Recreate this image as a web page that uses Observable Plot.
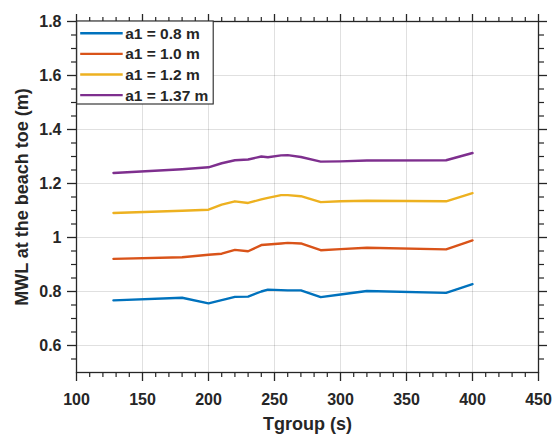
<!DOCTYPE html>
<html><head><meta charset="utf-8">
<script src="https://cdn.jsdelivr.net/npm/d3@7"></script>
<script src="https://cdn.jsdelivr.net/npm/@observablehq/plot@0.6"></script>
<style>
body{margin:0;background:#fff}
svg{font-family:"Liberation Sans",Arial,Helvetica,sans-serif}
</style>
</head><body><div id="chart"></div>
<script>
const tgroup = [128, 180, 200, 210, 220, 230, 240, 245, 255, 260, 270, 285, 300, 320, 380, 400];
const mwl08  = [0.767, 0.777, 0.756, 0.768, 0.780, 0.781, 0.800, 0.807, 0.805, 0.804, 0.804, 0.779, 0.789, 0.802, 0.795, 0.827];
const mwl10  = [0.921, 0.927, 0.936, 0.940, 0.954, 0.949, 0.972, 0.974, 0.978, 0.980, 0.978, 0.953, 0.957, 0.962, 0.956, 0.989];
const mwl12  = [1.091, 1.099, 1.103, 1.122, 1.134, 1.128, 1.141, 1.147, 1.157, 1.157, 1.153, 1.131, 1.134, 1.136, 1.134, 1.164];
const mwl137 = [1.239, 1.253, 1.260, 1.275, 1.286, 1.289, 1.300, 1.297, 1.304, 1.305, 1.298, 1.281, 1.282, 1.285, 1.286, 1.313];
const seriesNames  = ["a1 = 0.8 m", "a1 = 1.0 m", "a1 = 1.2 m", "a1 = 1.37 m"];
const seriesColors = ["#0072BD", "#D95319", "#EDB120", "#7E2F8E"];
const xTicks = [100, 150, 200, 250, 300, 350, 400, 450];
const yTicks = [0.6, 0.8, 1.0, 1.2, 1.4, 1.6, 1.8];
const yTickLabels = ["0.6", "0.8", "1", "1.2", "1.4", "1.6", "1.8"];
const xTitle = "Tgroup (s)";
const yTitle = "MWL at the beach toe (m)";

const seriesValues = [mwl08, mwl10, mwl12, mwl137];
const rows = seriesNames.flatMap((s, i) => tgroup.map((t, j) => ({series: s, t, v: seriesValues[i][j]})));
const xMinor = d3.range(100, 451, 10).filter(v => v % 50 !== 0);
const yMinor = d3.range(11, 36).map(k => k * 0.05).filter(v => Math.round(v * 100) % 20 !== 0 && v <= 1.8001);
const yFmt = d => yTickLabels[yTicks.findIndex(t => Math.abs(t - d) < 1e-9)] ?? "";

const ink = "#262626";
const plot = Plot.plot({
  width: 552, height: 439,
  marginLeft: 76, marginRight: 14, marginTop: 21, marginBottom: 67,
  x: {domain: [100, 450], label: null},
  y: {domain: [0.5, 1.8], label: null},
  color: {domain: seriesNames, range: seriesColors},
  marks: [
    Plot.gridX(xTicks, {stroke: "#000", strokeOpacity: 0.12}),
    Plot.gridY(yTicks, {stroke: "#000", strokeOpacity: 0.12}),
    Plot.line(rows, {x: "t", y: "v", z: "series", stroke: "series", strokeWidth: 2.4}),
    Plot.axisX(xTicks, {anchor: "bottom", tickSize: 9, tickPadding: 12, fontSize: 16, fontWeight: "bold", color: ink, strokeWidth: 1.3, label: null}),
    Plot.axisX(xMinor, {anchor: "bottom", tickSize: 5, text: null, color: ink, strokeWidth: 1.2, label: null}),
    Plot.axisX(xTicks, {anchor: "top", tickSize: 8, text: null, color: ink, strokeWidth: 1.3, label: null}),
    Plot.axisX(xMinor, {anchor: "top", tickSize: 5, text: null, color: ink, strokeWidth: 1.2, label: null}),
    Plot.axisY(yTicks, {anchor: "left", tickSize: 9, tickPadding: 6, tickFormat: yFmt, fontSize: 16, fontWeight: "bold", color: ink, strokeWidth: 1.3, label: null}),
    Plot.axisY(yMinor, {anchor: "left", tickSize: 5, text: null, color: ink, strokeWidth: 1.2, label: null}),
    Plot.axisY(yTicks, {anchor: "right", tickSize: 8, text: null, color: ink, strokeWidth: 1.3, label: null}),
    Plot.axisY(yMinor, {anchor: "right", tickSize: 5, text: null, color: ink, strokeWidth: 1.2, label: null}),
    Plot.frame({stroke: ink, strokeWidth: 1.3}),
    Plot.text([xTitle], {frameAnchor: "bottom", dy: 52, fontSize: 18, fontWeight: "bold", fill: ink, textAnchor: "middle", lineAnchor: "middle"}),
    Plot.text([yTitle], {frameAnchor: "left", dx: -54, rotate: -90, fontSize: 18, fontWeight: "bold", fill: ink, textAnchor: "middle", lineAnchor: "middle"})
  ]
});
document.getElementById("chart").appendChild(plot);

// legend (MATLAB-style box in the upper-left corner)
const svg = d3.select(plot);
const color = plot.scale("color");
const x0 = plot.scale("x").range[0];
const y0 = plot.scale("y").range[1];
const lg = svg.append("g").attr("transform", `translate(${x0 + 0.7},${y0})`);
lg.append("rect").attr("width", 136.5).attr("height", 83).attr("fill", "#fff").attr("stroke", ink).attr("stroke-width", 1.1);
seriesNames.forEach((s, i) => {
  const cy = 12.3 + i * 20.6;
  lg.append("line").attr("x1", 3.5).attr("x2", 46).attr("y1", cy).attr("y2", cy)
    .attr("stroke", color.apply(s)).attr("stroke-width", 2.4);
  lg.append("text").attr("x", 48.5).attr("y", cy).attr("dy", "0.36em").attr("text-anchor", "start")
    .attr("font-size", 15.5).attr("font-weight", "bold").attr("fill", ink).text(s);
});
</script>
</body></html>
